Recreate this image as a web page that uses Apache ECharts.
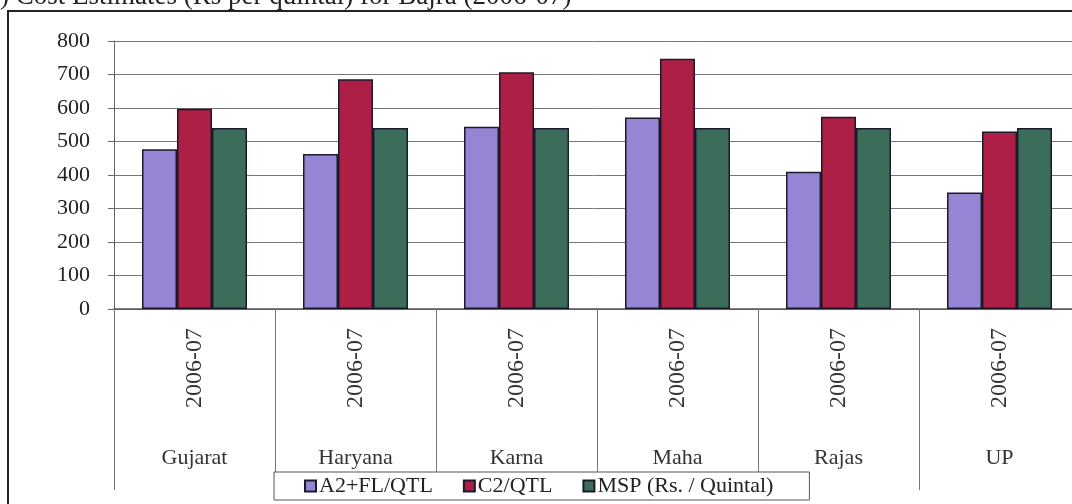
<!DOCTYPE html>
<html>
<head>
<meta charset="utf-8">
<script src="https://cdn.jsdelivr.net/npm/echarts@6/dist/echarts.min.js"></script>
<style>
  html, body { margin: 0; padding: 0; background: #fff; }
  #chart { width: 1072px; height: 504px; }
</style>
</head>
<body>
<div id="chart"></div>
<script>
// chart data
const states = ['Gujarat', 'Haryana', 'Karna', 'Maha', 'Rajas', 'UP'];
const yearLabels = ['2006-07', '2006-07', '2006-07', '2006-07', '2006-07', '2006-07'];
const a2flQtl = [477, 463, 544, 572, 410, 348];
const c2Qtl = [598, 686, 707, 747, 574, 530];
const mspQtl = [540, 540, 540, 540, 540, 540];
const yTicks = [0, 100, 200, 300, 400, 500, 600, 700, 800];

const serif = '"Liberation Serif", "DejaVu Serif", serif';
const barBorder = { borderColor: '#1c1a2a', borderWidth: 1.5 };

const chart = echarts.init(document.getElementById('chart'));
chart.setOption({
  animation: false,
  backgroundColor: '#fff',
  textStyle: { fontFamily: serif },
  title: {
    text: 'B) Cost Estimates (Rs per quintal) for Bajra (2006-07)',
    left: -18,
    top: -17,
    padding: 0,
    textStyle: { fontFamily: serif, fontSize: 27, fontWeight: 'normal', color: '#222' }
  },
  graphic: [
    {
      type: 'rect',
      shape: { x: 8, y: 11, width: 1120, height: 540 },
      style: { fill: null, stroke: '#222', lineWidth: 2 },
      silent: true
    }
  ],
  legend: {
    left: 274,
    top: 472,
    padding: [3, 36, 3, 30],
    itemGap: 30,
    itemWidth: 11,
    itemHeight: 11,
    icon: 'rect',
    backgroundColor: '#fff',
    borderColor: '#555',
    borderWidth: 1,
    textStyle: { fontFamily: serif, fontSize: 22, color: '#222', padding: [0, 0, 0, -2] },
    data: ['A2+FL/QTL', 'C2/QTL', 'MSP (Rs. / Quintal)'],
    z: 10
  },
  grid: { left: 114, top: 41, width: 966, bottom: 195, outerBoundsMode: 'none' },
  xAxis: [
    {
      type: 'category',
      data: yearLabels,
      axisLine: { lineStyle: { color: '#555', width: 1.5 } },
      axisTick: { show: true, length: 181, lineStyle: { color: '#777' } },
      axisLabel: {
        rotate: 90,
        margin: 19,
        fontFamily: serif,
        fontSize: 24,
        color: '#333'
      }
    },
    {
      type: 'category',
      data: states,
      position: 'bottom',
      axisLine: { show: false },
      axisTick: { show: false },
      axisLabel: { margin: 138, fontFamily: serif, fontSize: 22, color: '#333' }
    }
  ],
  yAxis: {
    type: 'value',
    min: yTicks[0],
    max: yTicks[yTicks.length - 1],
    interval: 100,
    axisLine: { show: true, lineStyle: { color: '#666' } },
    axisTick: { show: true, length: 6, lineStyle: { color: '#666' } },
    axisLabel: { margin: 24, fontFamily: serif, fontSize: 22, color: '#222' },
    splitLine: { lineStyle: { color: '#777', width: 1 } }
  },
  series: [
    {
      name: 'A2+FL/QTL',
      type: 'bar',
      data: a2flQtl,
      barWidth: 35,
      barGap: '0%',
      itemStyle: Object.assign({ color: '#9684d4' }, barBorder)
    },
    {
      name: 'C2/QTL',
      type: 'bar',
      data: c2Qtl,
      barWidth: 35,
      barGap: '0%',
      itemStyle: Object.assign({ color: '#ae1f45' }, barBorder)
    },
    {
      name: 'MSP (Rs. / Quintal)',
      type: 'bar',
      data: mspQtl,
      barWidth: 35,
      barGap: '0%',
      itemStyle: Object.assign({ color: '#3b6d5a' }, barBorder)
    }
  ]
});
</script>
</body>
</html>
